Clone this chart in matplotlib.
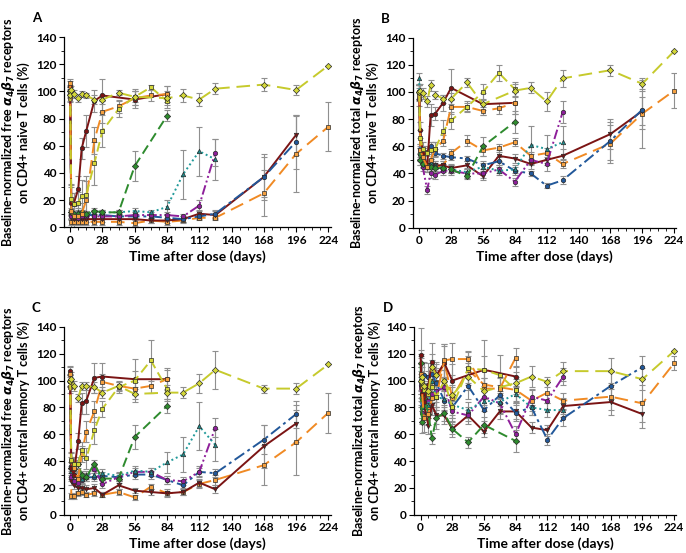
import numpy as np
import matplotlib.pyplot as plt
from matplotlib.ticker import MultipleLocator

# sampling days of each dose group (days after dose)
days_diamond = [0, 1, 3, 7, 10, 14, 21, 28, 42, 56, 84, 98, 112, 126, 168, 196, 224]
days_fast = [0, 1, 3, 7, 10, 14, 21, 28, 42, 56, 70, 84]
days_mr_fast = [0, 1, 3, 7, 10, 14, 21, 28, 56, 84]
days_green = [0, 1, 3, 7, 10, 14, 21, 28, 42, 56, 84]
days_mid = [0, 1, 3, 7, 10, 14, 21, 28, 42, 56, 70, 84, 98, 112, 126]
days_long = days_mid + [168, 196]
days_longest = days_mid + [168, 196, 224]

series_days = {
    "diamond": days_diamond, "ysq": days_fast, "or_fast": days_fast,
    "mr_fast": days_mr_fast, "green": days_green, "teal": days_mid,
    "purple": days_mid, "blue": days_long, "mr_slow": days_long,
    "or_slow": days_longest,
}

# panel A: free receptors, naive cells (mean, sd)
A_vals = {
    "diamond": [97, 101, 98, 95, 98, 97, 94, 94, 99, 96, 95, 97, 94, 102, 105, 101, 119],
    "ysq": [100, 21, 17, 18, 23, 24, 47, 71, 87, 96, 103, 93],
    "or_fast": [106, 12, 8, 8, 10, 20, 64, 85, 89, 95, 97, 98],
    "mr_fast": [104, 18, 17, 28, 58, 71, 93, 97, 94, 98],
    "green": [100, 11, 10, 10, 11, 10, 12, 11, 11, 45, 82],
    "teal": [101, 11, 10, 11, 11, 10, 11, 11, 11, 12, 11, 15, 39, 56, 50],
    "purple": [100, 8, 8, 7, 8, 8, 8, 8, 8, 9, 9, 9, 8, 16, 55],
    "blue": [99, 9, 9, 9, 9, 9, 9, 9, 8, 8, 8, 7, 6, 8, 10, 37, 63],
    "mr_slow": [100, 7, 6, 6, 6, 6, 6, 6, 6, 6, 5, 5, 6, 10, 9, 37, 68],
    "or_slow": [95, 4, 4, 4, 4, 4, 4, 4, 4, 3, 5, 4, 5, 7, 7, 25, 54, 74],
}
A_errs = {
    "diamond": [4, 3, 3, 3, 2, 2, 3, 3, 2, 4, 5, 5, 5, 4, 5, 4, 0],
    "ysq": [5, 10, 8, 8, 12, 14, 16, 12, 6, 6, 2, 5],
    "or_fast": [3, 20, 8, 6, 8, 14, 10, 8, 5, 5, 4, 6],
    "mr_fast": [4, 12, 8, 10, 8, 12, 8, 12, 6, 6],
    "green": [3, 3, 2, 2, 2, 2, 2, 2, 2, 11, 4],
    "teal": [3, 2, 2, 2, 2, 2, 2, 2, 2, 2, 2, 5, 18, 18, 15],
    "purple": [3, 2, 2, 2, 2, 2, 2, 2, 2, 2, 2, 2, 2, 4, 10],
    "blue": [3, 2, 2, 2, 2, 2, 2, 2, 2, 2, 2, 2, 2, 2, 3, 15, 20],
    "mr_slow": [3, 2, 2, 2, 2, 2, 2, 2, 2, 2, 2, 2, 2, 3, 3, 17, 15],
    "or_slow": [3, 2, 2, 2, 2, 2, 2, 2, 2, 2, 2, 2, 2, 2, 2, 17, 28, 18],
}

# panel B: total receptors, naive cells
B_vals = {
    "diamond": [100, 101, 99, 93, 105, 98, 95, 95, 107, 91, 101, 103, 93, 110, 116, 106, 130],
    "ysq": [100, 66, 58, 55, 57, 58, 71, 79, 89, 100, 114, 102],
    "or_fast": [100, 57, 52, 45, 50, 58, 64, 89, 89, 86, 88, 92],
    "mr_fast": [100, 72, 55, 45, 83, 84, 92, 103, 91, 92],
    "green": [100, 50, 47, 46, 45, 44, 44, 43, 38, 60, 78],
    "teal": [110, 55, 50, 47, 48, 46, 44, 43, 41, 45, 42, 43, 61, 58, 63],
    "purple": [95, 50, 45, 28, 40, 39, 42, 42, 40, 40, 43, 34, 50, 47, 85],
    "blue": [100, 58, 56, 56, 60, 55, 53, 52, 51, 46, 49, 42, 40, 31, 35, 64, 87],
    "mr_slow": [100, 52, 48, 46, 46, 46, 46, 44, 46, 38, 53, 51, 47, 50, 53, 69, 86],
    "or_slow": [98, 55, 48, 46, 46, 45, 46, 55, 64, 57, 59, 63, 53, 55, 47, 62, 84, 101],
}
B_errs = {
    "diamond": [6, 5, 4, 4, 4, 3, 3, 4, 3, 4, 5, 4, 7, 6, 4, 4, 0],
    "ysq": [5, 6, 5, 5, 6, 5, 8, 6, 4, 6, 6, 5],
    "or_fast": [5, 5, 4, 4, 4, 5, 4, 5, 3, 3, 4, 8],
    "mr_fast": [5, 6, 5, 4, 8, 5, 6, 14, 8, 8],
    "green": [5, 4, 3, 3, 3, 3, 3, 3, 2, 7, 8],
    "teal": [4, 4, 3, 3, 3, 3, 3, 3, 3, 3, 3, 3, 14, 10, 12],
    "purple": [5, 4, 3, 3, 3, 3, 3, 3, 3, 3, 3, 3, 4, 5, 8],
    "blue": [5, 4, 3, 3, 3, 3, 2, 2, 2, 3, 3, 3, 2, 2, 3, 14, 14],
    "mr_slow": [5, 3, 3, 3, 3, 3, 3, 3, 3, 3, 4, 3, 4, 4, 5, 11, 10],
    "or_slow": [5, 4, 3, 3, 3, 3, 3, 3, 4, 4, 3, 3, 3, 4, 3, 14, 25, 13],
}

# panel C: free receptors, central memory cells
C_vals = {
    "diamond": [100, 101, 96, 87, 96, 96, 95, 91, 96, 90, 91, 91, 98, 108, 94, 94, 112],
    "ysq": [100, 41, 38, 38, 48, 42, 63, 79, 95, 100, 115, 94],
    "or_fast": [105, 40, 35, 27, 45, 62, 77, 99, 96, 94, 96, 101],
    "mr_fast": [107, 35, 30, 55, 83, 85, 102, 103, 101, 101],
    "green": [100, 35, 34, 38, 30, 28, 38, 27, 27, 58, 81],
    "teal": [100, 33, 30, 28, 27, 30, 30, 31, 29, 33, 32, 39, 45, 66, 52],
    "purple": [100, 28, 25, 24, 26, 28, 34, 23, 28, 32, 32, 26, 25, 32, 65],
    "blue": [100, 36, 30, 27, 28, 28, 28, 29, 28, 30, 30, 26, 22, 32, 31, 56, 75],
    "mr_slow": [100, 25, 22, 20, 20, 19, 20, 15, 22, 18, 17, 16, 17, 24, 19, 51, 68],
    "or_slow": [95, 14, 14, 16, 17, 15, 16, 15, 17, 13, 21, 16, 17, 23, 26, 37, 54, 76],
}
C_errs = {
    "diamond": [5, 5, 4, 3, 3, 3, 4, 4, 3, 4, 6, 4, 7, 14, 3, 4, 0],
    "ysq": [5, 6, 5, 5, 6, 8, 10, 6, 4, 16, 15, 8],
    "or_fast": [5, 6, 5, 5, 6, 8, 8, 6, 4, 5, 5, 7],
    "mr_fast": [4, 8, 6, 6, 8, 10, 11, 10, 6, 8],
    "green": [4, 4, 3, 3, 3, 3, 3, 3, 3, 9, 5],
    "teal": [4, 3, 3, 3, 3, 3, 3, 3, 3, 3, 3, 8, 13, 18, 12],
    "purple": [4, 3, 3, 3, 3, 3, 3, 3, 3, 3, 3, 3, 3, 4, 7],
    "blue": [4, 3, 3, 3, 3, 3, 3, 3, 3, 3, 3, 3, 2, 3, 3, 11, 10],
    "mr_slow": [4, 3, 3, 3, 3, 3, 3, 2, 3, 2, 2, 2, 2, 3, 3, 16, 14],
    "or_slow": [4, 2, 2, 2, 2, 2, 2, 2, 2, 2, 2, 3, 2, 3, 4, 15, 24, 15],
}

# panel D: total receptors, central memory cells
D_vals = {
    "diamond": [100, 103, 96, 92, 110, 104, 100, 89, 103, 92, 98, 103, 99, 107, 107, 101, 122],
    "ysq": [100, 98, 93, 90, 95, 88, 100, 80, 109, 108, 104, 93],
    "or_fast": [105, 95, 72, 75, 87, 88, 115, 116, 116, 94, 94, 117],
    "mr_fast": [119, 90, 84, 97, 114, 104, 113, 100, 108, 103],
    "green": [113, 69, 87, 75, 57, 72, 76, 64, 54, 67, 55],
    "teal": [102, 80, 85, 82, 100, 88, 86, 82, 78, 85, 84, 90, 80, 78, 78],
    "purple": [97, 76, 90, 85, 90, 92, 95, 77, 74, 88, 83, 60, 88, 85, 103],
    "blue": [100, 80, 104, 103, 105, 98, 85, 80, 96, 78, 89, 76, 80, 56, 72, 96, 110],
    "mr_slow": [100, 85, 82, 66, 82, 74, 74, 64, 74, 62, 77, 77, 65, 63, 81, 84, 75],
    "or_slow": [95, 88, 82, 80, 100, 99, 114, 87, 108, 97, 95, 93, 85, 91, 85, 88, 83, 113],
}
D_errs = {
    "diamond": [20, 10, 8, 8, 10, 8, 8, 8, 10, 10, 8, 8, 4, 7, 10, 8, 0],
    "ysq": [18, 12, 10, 10, 12, 10, 8, 8, 12, 22, 15, 10],
    "or_fast": [12, 10, 10, 8, 10, 10, 12, 12, 6, 8, 8, 7],
    "mr_fast": [20, 10, 10, 10, 14, 10, 14, 12, 10, 8],
    "green": [10, 8, 8, 8, 4, 8, 6, 6, 4, 6, 8],
    "teal": [10, 8, 8, 8, 8, 8, 8, 8, 6, 8, 8, 6, 6, 5, 5],
    "purple": [10, 8, 8, 8, 8, 8, 8, 8, 6, 8, 8, 6, 6, 6, 6],
    "blue": [10, 8, 10, 10, 10, 10, 8, 8, 10, 8, 8, 6, 6, 4, 6, 10, 8],
    "mr_slow": [10, 8, 8, 6, 8, 6, 6, 4, 4, 4, 6, 6, 4, 4, 6, 10, 10],
    "or_slow": [10, 8, 8, 8, 10, 10, 12, 8, 10, 10, 8, 8, 8, 8, 6, 10, 14, 5],
}

# line colour, marker face, marker, dash pattern
styles = {
    "diamond": ("#c6ca2c", "#d4d83a", "D", (0, (7, 3.5))),
    "ysq": ("#c6ca2c", "#d4d83a", "s", (0, (5, 2.5))),
    "or_fast": ("#f08a24", "#f4a040", "s", (0, (7, 3.5))),
    "mr_fast": ("#7b1414", "#7b1414", "o", "-"),
    "green": ("#2e8b2e", "#2e8b2e", "D", (0, (5, 2.5))),
    "teal": ("#219a9a", "#1f8a8a", "^", (0, (1, 1.5))),
    "purple": ("#8e1f9a", "#8e1f9a", "o", (0, (5, 1.5, 1, 1.5, 1, 1.5))),
    "blue": ("#22589a", "#22589a", "o", (0, (6, 2, 1.5, 2))),
    "mr_slow": ("#7b1414", "#7b1414", "v", "-"),
    "or_slow": ("#f08a24", "#f4a040", "s", (0, (7, 3.5))),
}
draw_order = ["or_slow", "mr_slow", "blue", "purple", "teal", "green",
              "mr_fast", "or_fast", "ysq", "diamond"]

plt.rcParams['font.family'] = ['Lato', 'DejaVu Sans']
plt.rcParams['font.weight'] = 'bold'
plt.rcParams['mathtext.fontset'] = 'dejavusans'

fig = plt.figure(figsize=(6.86, 5.53), dpi=100)

panels = [
    ("A", A_vals, A_errs, [0.093, 0.589, 0.389, 0.344], "free", "naive"),
    ("B", B_vals, B_errs, [0.602, 0.588, 0.384, 0.344], "total", "naive"),
    ("C", C_vals, C_errs, [0.093, 0.069, 0.389, 0.340], "free", "central memory"),
    ("D", D_vals, D_errs, [0.604, 0.069, 0.382, 0.340], "total", "central memory"),
]

for letter, vals, errs, rect, kind, cell in panels:
    ax = fig.add_axes(rect)
    for name in draw_order:
        x = series_days[name]
        ax.errorbar(x, vals[name], yerr=errs[name], fmt="none", ecolor="#8f8f8f",
                    elinewidth=0.8, capsize=2, capthick=0.8, zorder=1)
    for name in draw_order:
        x = series_days[name]
        col, face, mk, ls = styles[name]
        ms = 3.2 if mk in ("s", "D") else 3.2
        ax.plot(x, vals[name], color=col, linestyle=ls, lw=1.4, marker=mk,
                ms=ms, mfc=face, mec="#2a2a2a", mew=0.5, zorder=3, clip_on=False)

    ax.set_xlim(-5.5, 226)
    ax.set_ylim(0, 140)
    ax.xaxis.set_major_locator(MultipleLocator(28))
    ax.xaxis.set_minor_locator(MultipleLocator(7))
    ax.yaxis.set_major_locator(MultipleLocator(20))
    ax.yaxis.set_minor_locator(MultipleLocator(10))
    ax.tick_params(which="major", direction="out", length=3.5, width=0.8,
                   labelsize=8.5, pad=2)
    ax.tick_params(which="minor", direction="out", length=2, width=0.6)
    for s in ("top", "right"):
        ax.spines[s].set_visible(False)
    for s in ("left", "bottom"):
        ax.spines[s].set_linewidth(0.9)

    ax.set_xlabel("Time after dose (days)", fontsize=10, fontweight="bold", labelpad=3)
    ax.set_ylabel("Baseline-normalized " + kind + r" $\alpha_4\beta_7$ receptors" + "\n"
                  + "on CD4+ " + cell + " T cells (%)",
                  fontsize=9, fontweight="bold", labelpad=4, linespacing=1.05)
    ax.text(-0.12, 1.1, letter, transform=ax.transAxes, fontsize=9.5,
            fontweight="bold", ha="left", va="center")

fig.savefig("out.png", dpi=100)
